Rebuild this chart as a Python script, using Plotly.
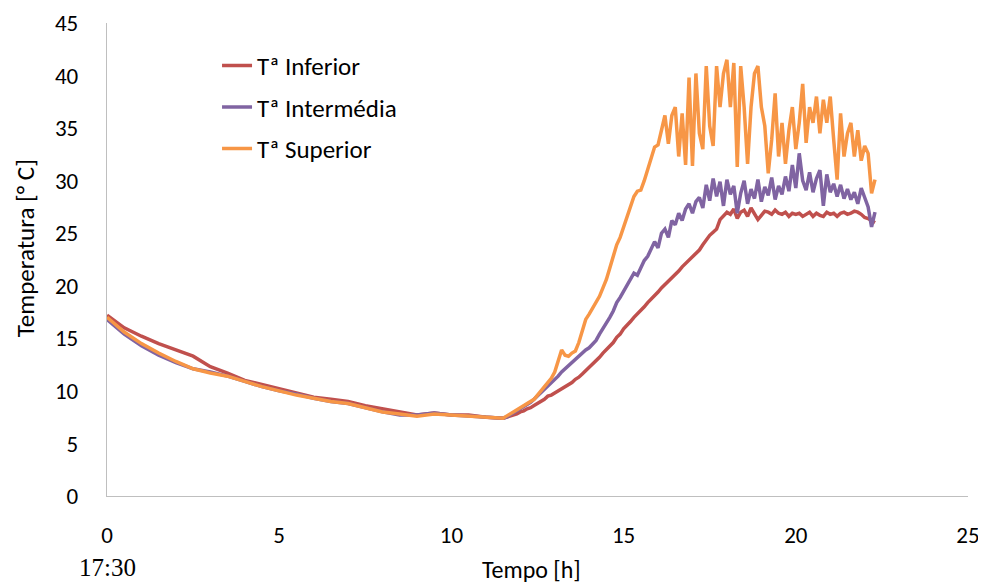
import plotly.graph_objects as go

# ---- data ----
hours = [0, 0.5, 1, 1.5, 2, 2.5, 3, 3.5, 4, 4.5, 5, 5.5, 6, 6.5, 7, 7.5, 8, 8.5, 9, 9.5, 10, 10.5, 11, 11.5,
         11.6, 11.7, 11.8, 11.9, 12.0, 12.1, 12.2, 12.3, 12.4, 12.5,
         12.6, 12.7, 12.8, 12.9, 13.0, 13.1, 13.2, 13.3, 13.4, 13.5,
         13.6, 13.7, 13.8, 13.9, 14.0, 14.1, 14.2, 14.3, 14.4, 14.5,
         14.6, 14.7, 14.8, 14.9, 15.0, 15.1, 15.2, 15.3, 15.4, 15.5,
         15.6, 15.7, 15.8, 15.9, 16.0, 16.1, 16.2, 16.3, 16.4, 16.5,
         16.6, 16.7, 16.8, 16.9, 17.0, 17.1, 17.2, 17.3, 17.4, 17.5,
         17.6, 17.7, 17.8, 17.9, 18.0, 18.1, 18.2, 18.3, 18.4, 18.5,
         18.6, 18.7, 18.8, 18.9, 19.0, 19.1, 19.2, 19.3, 19.4, 19.5,
         19.6, 19.7, 19.8, 19.9, 20.0, 20.1, 20.2, 20.3, 20.4, 20.5,
         20.6, 20.7, 20.8, 20.9, 21.0, 21.1, 21.2, 21.3, 21.4, 21.5,
         21.6, 21.7, 21.8, 21.9, 22.0, 22.1, 22.2, 22.3]

t_inferior = [17.2, 16.0, 15.2, 14.5, 13.9, 13.3, 12.3, 11.7, 11.0, 10.6, 10.2, 9.8, 9.4, 9.2, 9.0, 8.6, 8.3, 8.0, 7.7, 7.9, 7.7, 7.7, 7.5, 7.4,
              7.5, 7.6, 7.7, 7.8, 8.0, 8.1, 8.3, 8.4, 8.6, 8.8,
              9.0, 9.2, 9.5, 9.6, 9.8, 10.0, 10.2, 10.4, 10.6, 10.8,
              11.1, 11.3, 11.6, 11.9, 12.2, 12.5, 12.9, 13.2, 13.6, 13.9,
              14.3, 14.6, 15.1, 15.4, 15.9, 16.2, 16.6, 17.0, 17.3, 17.7,
              18.0, 18.4, 18.7, 19.1, 19.4, 19.8, 20.1, 20.5, 20.8, 21.1,
              21.4, 21.8, 22.1, 22.5, 22.8, 23.1, 23.4, 23.9, 24.4, 24.8,
              25.1, 25.4, 26.3, 26.6, 27.0, 26.8, 27.3, 26.4, 27.0, 27.2,
              26.6, 27.4, 26.9, 26.3, 26.7, 27.1, 27.0, 26.8, 27.2, 26.9,
              26.8, 27.0, 26.6, 26.9, 26.8, 26.9, 26.6, 26.8, 27.0, 26.6,
              26.9, 26.7, 26.6, 27.0, 26.8, 26.9, 26.6, 26.9, 27.0, 26.8,
              26.9, 27.1, 27.0, 26.8, 26.5, 26.4, 26.2, 26.0]

t_intermedia = [16.8, 15.4, 14.3, 13.4, 12.7, 12.1, 11.8, 11.4, 10.9, 10.4, 10.0, 9.7, 9.3, 9.0, 8.8, 8.4, 8.0, 7.7, 7.7, 7.9, 7.7, 7.6, 7.5, 7.4,
                7.5, 7.7, 7.9, 8.1, 8.3, 8.5, 8.7, 8.9, 9.2, 9.5,
                9.8, 10.1, 10.4, 10.7, 11.0, 11.4, 11.8, 12.1, 12.5, 12.7,
                13.1, 13.3, 13.6, 13.9, 14.1, 14.5, 14.8, 15.4, 15.9, 16.4,
                17.0, 17.6, 18.4, 18.9, 19.5, 20.1, 20.6, 21.2, 21.0, 21.8,
                22.4, 22.8, 23.5, 24.2, 23.6, 25.0, 25.4, 24.6, 26.2, 25.8,
                26.9, 26.2, 27.3, 27.8, 26.9, 28.0, 28.4, 27.4, 29.6, 28.1,
                30.2, 28.5, 29.9, 27.6, 30.1, 28.7, 29.5, 26.9, 28.8, 30.0,
                27.8, 29.2, 28.3, 30.1, 28.0, 29.4, 28.6, 30.3, 28.2, 29.5,
                28.7, 30.4, 29.0, 31.5, 29.3, 32.6, 30.0, 29.1, 30.8, 28.9,
                30.2, 31.0, 27.6, 30.6, 28.9, 29.7, 28.5, 29.6, 28.3, 29.2,
                28.2, 28.9, 27.8, 29.3, 28.4, 27.5, 25.6, 27.0]

t_superior = [17.0, 15.6, 14.5, 13.6, 12.8, 12.1, 11.7, 11.4, 10.9, 10.4, 10.0, 9.6, 9.3, 9.0, 8.8, 8.4, 8.0, 7.8, 7.6, 7.8, 7.7, 7.6, 7.5, 7.4,
              7.6, 7.8, 8.0, 8.2, 8.4, 8.6, 8.8, 9.0, 9.2, 9.6,
              10.0, 10.4, 10.8, 11.2, 11.8, 12.8, 13.9, 13.4, 13.3, 13.6,
              13.8, 14.6, 15.8, 16.8, 17.3, 17.9, 18.4, 19.0, 19.8, 20.6,
              21.7, 22.8, 23.9, 24.6, 25.6, 26.6, 27.4, 28.5, 29.0, 29.1,
              30.0, 31.0, 32.2, 33.2, 33.4, 34.8, 36.2, 33.5, 36.2, 37.0,
              32.3, 36.4, 31.5, 39.8, 31.4, 40.2, 34.5, 33.0, 40.9, 35.2,
              33.3, 40.9, 37.0, 40.2, 41.5, 37.0, 41.2, 31.3, 40.9, 37.0,
              31.6, 37.0, 40.2, 40.9, 37.0, 35.2, 30.7, 33.9, 38.3, 32.3,
              35.5, 31.6, 34.8, 37.0, 33.0, 35.5, 39.2, 33.6, 37.0, 35.5,
              38.0, 34.5, 37.7, 35.5, 38.0, 33.9, 30.1, 36.4, 32.3, 34.5,
              35.5, 32.3, 34.8, 31.9, 33.3, 32.6, 28.8, 30.1]

series_names = ["Tª Inferior", "Tª Intermédia", "Tª Superior"]
series_colors = ["#C0504D", "#8064A2", "#F79646"]
x_ticks = [0, 5, 10, 15, 20, 25]
y_ticks = [0, 5, 10, 15, 20, 25, 30, 35, 40, 45]

FONT = "Calibri, Carlito, Lato, 'Open Sans', sans-serif"

fig = go.Figure()
for name, vals, col in zip(series_names, [t_inferior, t_intermedia, t_superior], series_colors):
    fig.add_trace(go.Scatter(x=hours, y=vals, mode="lines", name=name, legendgroup=name,
                             line=dict(color=col, width=3.5)))

fig.update_layout(
    width=986, height=584,
    margin=dict(l=99, r=26, t=15, b=96),
    paper_bgcolor="white", plot_bgcolor="white",
    font=dict(family=FONT, size=23, color="#000000"),
    showlegend=True,
    legend=dict(x=0.1278, y=0.958, xanchor="left", yanchor="top",
                bgcolor="rgba(0,0,0,0)", font=dict(size=25),
                traceorder="grouped", tracegroupgap=6),
    xaxis=dict(range=[0, 25], tickvals=x_ticks, showgrid=False, zeroline=False,
               showline=True, linecolor="#BFBFBF", linewidth=1.3, automargin=False,
               ticks="outside", ticklen=18, tickcolor="rgba(0,0,0,0)",
               tickfont=dict(size=23)),
    yaxis=dict(range=[0, 45], tickvals=y_ticks, showgrid=False, zeroline=False,
               showline=True, linecolor="#BFBFBF", linewidth=1.3, automargin=False,
               ticks="outside", ticklen=23, tickcolor="rgba(0,0,0,0)",
               tickfont=dict(size=23)),
    annotations=[
        dict(text="Tempo [h]", xref="paper", yref="paper", x=0.4925, y=-0.155,
             xanchor="center", yanchor="middle", showarrow=False, font=dict(size=24)),
        dict(text="Temperatura [° C]", xref="paper", yref="paper", x=-0.0952, y=0.524,
             xanchor="center", yanchor="middle", textangle=-90, showarrow=False, font=dict(size=25)),
        dict(text="17:30", xref="paper", yref="paper", x=0.001, y=-0.152,
             xanchor="center", yanchor="middle", showarrow=False,
             font=dict(family="'Liberation Serif', 'Times New Roman', serif", size=25)),
    ],
)

fig.write_html("out.html")
